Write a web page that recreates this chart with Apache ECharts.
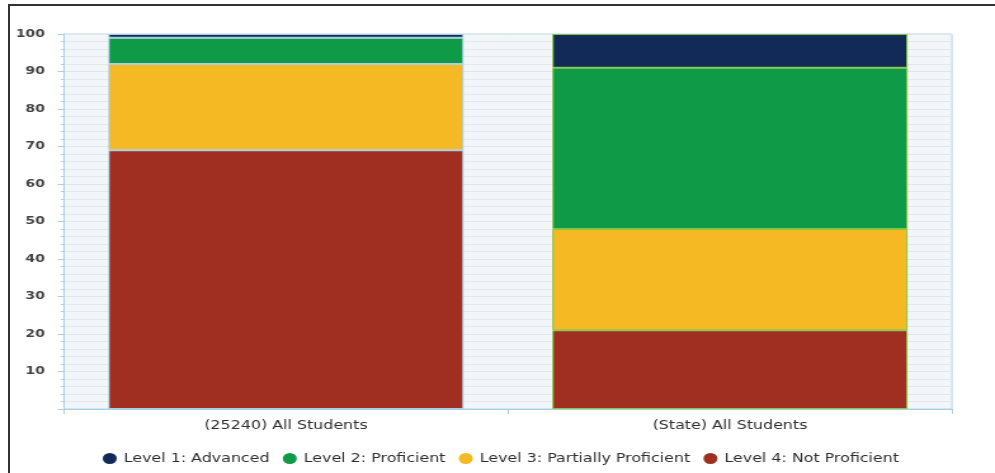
<!DOCTYPE html>
<html>
<head>
<meta charset="utf-8">
<script src="https://cdn.jsdelivr.net/npm/echarts@6/dist/echarts.min.js"></script>
<style>
  html, body { margin: 0; padding: 0; background: #fff; overflow: hidden; }
  #frame { position: absolute; left: 8px; top: 4px; width: 1000px; height: 480px;
           border-top: 2px solid #333; border-left: 2px solid #333; }
  /* the chart is laid out narrower and widened horizontally, giving the wide lettering */
  #chart { position: absolute; left: 0; top: 0; width: 784px; height: 473px;
           transform: scaleX(1.2691); transform-origin: 0 0; }
</style>
</head>
<body>
<div id="frame"></div>
<div id="chart"></div>
<script>
// Performance level distribution (percent of students)
const categories = ['(25240) All Students', '(State) All Students'];
const levelNames = ['Level 1: Advanced', 'Level 2: Proficient', 'Level 3: Partially Proficient', 'Level 4: Not Proficient'];
const advanced = [1, 9];
const proficient = [7, 43];
const partiallyProficient = [23, 27];
const notProficient = [69, 21];
const yTicks = [10, 20, 30, 40, 50, 60, 70, 80, 90, 100];

const levelColors = ['#112a57', '#0f9a48', '#f4b923', '#a02f22'];
const barBorders = ['#a9cfe4', '#86c440'];
const font = 'DejaVu Sans, Verdana, sans-serif';

function makeData(values) {
  return values.map((v, i) => ({
    value: v,
    itemStyle: { borderColor: barBorders[i], borderWidth: 1 }
  }));
}

// stacking order from the bottom: level 4 up to level 1
const stackOrder = [
  { name: levelNames[3], data: notProficient, color: levelColors[3] },
  { name: levelNames[2], data: partiallyProficient, color: levelColors[2] },
  { name: levelNames[1], data: proficient, color: levelColors[1] },
  { name: levelNames[0], data: advanced, color: levelColors[0] }
];

const chart = echarts.init(document.getElementById('chart'));
chart.setOption({
  animation: false,
  grid: {
    left: 50.4, right: 33.9, top: 34, bottom: 64,
    show: true, backgroundColor: '#f3f6f8', borderColor: '#b3d4e6', borderWidth: 1
  },
  legend: {
    top: 447,
    left: 76,
    icon: 'circle',
    itemWidth: 11,
    itemHeight: 11,
    itemGap: 10.5,
    data: levelNames,
    textStyle: { fontFamily: font, fontSize: 12.5, color: '#2e2e2e', padding: [0, 0, 0, 0.5] }
  },
  xAxis: {
    type: 'category',
    data: categories,
    axisLine: { lineStyle: { color: '#a9cfe4' } },
    axisTick: { show: true, length: 5, lineStyle: { color: '#a9cfe4' } },
    axisLabel: { fontFamily: font, fontSize: 12.5, color: '#2e2e2e', margin: 10 }
  },
  yAxis: {
    type: 'value',
    min: 0, max: 100, interval: 10,
    axisLine: { show: true, lineStyle: { color: '#a9cfe4' } },
    axisTick: { show: true, length: 5, lineStyle: { color: '#a9cfe4' } },
    minorTick: { show: true, splitNumber: 5, length: 2.5, lineStyle: { color: '#a9cfe4' } },
    splitLine: { show: true, lineStyle: { color: '#dfe6ec' } },
    minorSplitLine: { show: true, lineStyle: { color: '#e2e8ee' } },
    axisLabel: {
      fontFamily: font, fontSize: 11, fontWeight: 'bold', color: '#444', margin: 15,
      formatter: v => (yTicks.indexOf(v) >= 0 ? String(v) : '')
    }
  },
  series: stackOrder.map(s => ({
    name: s.name,
    type: 'bar',
    stack: 'levels',
    barWidth: '80%',
    itemStyle: { color: s.color },
    data: makeData(s.data)
  }))
});
</script>
</body>
</html>
